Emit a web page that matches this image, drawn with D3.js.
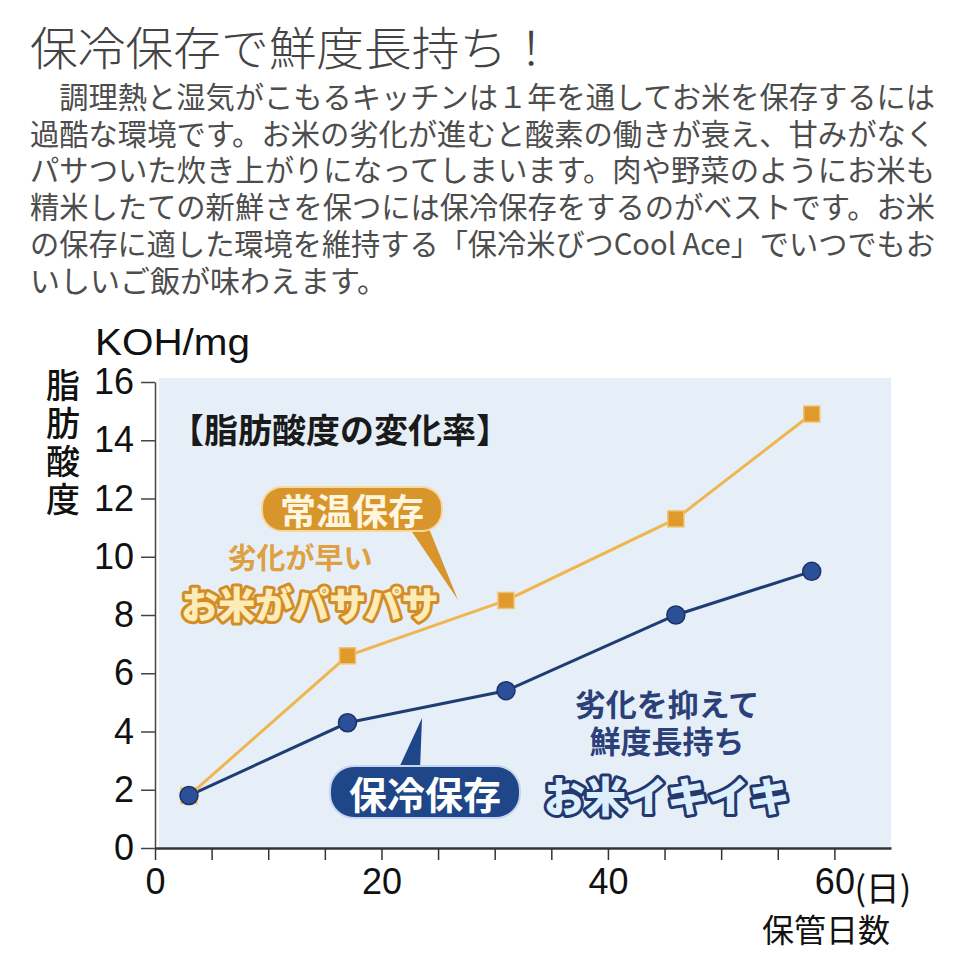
<!DOCTYPE html>
<html>
<head>
<meta charset="utf-8">
<script src="https://cdn.jsdelivr.net/npm/d3@7"></script>
<style>
  body { margin: 0; background: #fff; }
  svg { display: block; }
</style>
</head>
<body>
<script>
// data
const days = [3, 17, 31, 46, 58];
const roomTemp = [1.8, 6.6, 8.5, 11.3, 14.9];   // 常温保存
const cooled = [1.8, 4.3, 5.4, 8.0, 9.5];       // 保冷保存
const yTicks = [0, 2, 4, 6, 8, 10, 12, 14, 16];
const xTicks = [0, 5, 10, 15, 20, 25, 30, 35, 40, 45, 50, 55, 60];
const xLabels = [0, 20, 40, 60];

const title = '保冷保存で鮮度長持ち！';
const bodyLines = [
  '　調理熱と湿気がこもるキッチンは１年を通してお米を保存するには',
  '過酷な環境です。お米の劣化が進むと酸素の働きが衰え、甘みがなく',
  'パサついた炊き上がりになってしまいます。肉や野菜のようにお米も',
  '精米したての新鮮さを保つには保冷保存をするのがベストです。お米',
  'の保存に適した環境を維持する「保冷米びつCool Ace」でいつでもお',
  'いしいご飯が味わえます。'
];

const jp = '"Noto Sans CJK JP", "Noto Sans", sans-serif';
const latin = '"Liberation Sans", Arial, sans-serif';

const svg = d3.select('body').append('svg')
  .attr('width', 960)
  .attr('height', 960);

// heading + paragraph
svg.append('text')
  .attr('x', 30)
  .attr('y', 45)
  .attr('dominant-baseline', 'central')
  .attr('font-family', jp)
  .attr('font-weight', 300)
  .attr('font-size', 46)
  .attr('fill', '#444')
  .attr('textLength', 525)
  .attr('lengthAdjust', 'spacingAndGlyphs')
  .text(title);

// paragraph as one text block
svg.append('text')
  .attr('font-family', jp)
  .attr('font-weight', 400)
  .attr('font-size', 30)
  .attr('fill', '#4d4d4d')
  .selectAll('tspan')
  .data(bodyLines)
  .enter()
  .append('tspan')
  .attr('x', 30)
  .attr('y', (d, i) => 108 + i * 36.7)
  .each(function (d, i) {
    if (i < bodyLines.length - 1) {
      d3.select(this).attr('textLength', 905).attr('lengthAdjust', 'spacingAndGlyphs');
    }
  })
  .text((d) => d);

// chart
const x = d3.scaleLinear().domain([0, 65]).range([155, 891]);
const y = d3.scaleLinear().domain([0, 16]).range([848, 382]);

svg.append('rect')
  .attr('x', x(0) + 4)
  .attr('y', y(16) - 4)
  .attr('width', x(65) - x(0) - 4)
  .attr('height', y(0) - y(16) + 4)
  .attr('fill', '#e6eff8');

const xAxis = d3.axisBottom(x)
  .tickValues(xTicks)
  .tickSize(12)
  .tickSizeOuter(0)
  .tickPadding(8)
  .tickFormat((d) => (xLabels.includes(d) ? d : ''));

const gx = svg.append('g')
  .attr('transform', 'translate(0,' + y(0) + ')')
  .call(xAxis);
gx.select('.domain').attr('stroke', '#333').attr('stroke-width', 2.5);
gx.selectAll('.tick line').attr('stroke', '#333').attr('stroke-width', 1.5);
gx.selectAll('.tick text')
  .attr('font-family', latin)
  .attr('font-size', 36)
  .attr('fill', '#111');

svg.append('text')
  .attr('x', x(60) + 20)
  .attr('y', 886)
  .attr('dominant-baseline', 'central')
  .attr('font-family', jp)
  .attr('font-size', 34)
  .attr('fill', '#111')
  .text('(日)');

svg.append('text')
  .attr('x', 890)
  .attr('y', 928)
  .attr('text-anchor', 'end')
  .attr('dominant-baseline', 'central')
  .attr('font-family', jp)
  .attr('font-weight', 400)
  .attr('font-size', 32)
  .attr('fill', '#111')
  .text('保管日数');

const yAxis = d3.axisLeft(y)
  .tickValues(yTicks)
  .tickSize(14)
  .tickSizeOuter(0)
  .tickPadding(7);

const gy = svg.append('g')
  .attr('transform', 'translate(' + x(0) + ',0)')
  .call(yAxis);
gy.select('.domain').attr('stroke', '#444').attr('stroke-width', 1.5);
gy.selectAll('.tick line').attr('stroke', '#444').attr('stroke-width', 1.5);
gy.selectAll('.tick text')
  .attr('font-family', latin)
  .attr('font-size', 36)
  .attr('fill', '#111');

svg.append('text')
  .attr('x', 95)
  .attr('y', 342)
  .attr('dominant-baseline', 'central')
  .attr('font-family', latin)
  .attr('font-size', 36)
  .attr('fill', '#111')
  .attr('textLength', 155)
  .attr('lengthAdjust', 'spacingAndGlyphs')
  .text('KOH/mg');

// vertical y label as one text
svg.append('text')
  .attr('x', 63)
  .attr('y', 368)
  .style('writing-mode', 'vertical-rl')
  .style('text-orientation', 'upright')
  .style('letter-spacing', '4px')
  .attr('font-family', jp)
  .attr('font-weight', 500)
  .attr('font-size', 34)
  .attr('fill', '#111')
  .text('脂肪酸度');

svg.append('text')
  .attr('x', 170)
  .attr('y', 428)
  .attr('dominant-baseline', 'central')
  .attr('font-family', jp)
  .attr('font-weight', 700)
  .attr('font-size', 34)
  .attr('fill', '#1a1a1a')
  .text('【脂肪酸度の変化率】');

// series lines
const line = d3.line()
  .x((d, i) => x(days[i]))
  .y((d) => y(d));

svg.append('path')
  .datum(roomTemp)
  .attr('d', line)
  .attr('fill', 'none')
  .attr('stroke', '#efb650')
  .attr('stroke-width', 3);

svg.append('path')
  .datum(cooled)
  .attr('d', line)
  .attr('fill', 'none')
  .attr('stroke', '#1f3c74')
  .attr('stroke-width', 3);

svg.append('g')
  .selectAll('rect')
  .data(roomTemp)
  .enter()
  .append('rect')
  .attr('x', (d, i) => x(days[i]) - 8)
  .attr('y', (d) => y(d) - 8)
  .attr('width', 16)
  .attr('height', 16)
  .attr('fill', '#e09a2c')
  .attr('stroke', '#f3c070')
  .attr('stroke-width', 1.5);

svg.append('g')
  .selectAll('circle')
  .data(cooled)
  .enter()
  .append('circle')
  .attr('cx', (d, i) => x(days[i]))
  .attr('cy', (d) => y(d))
  .attr('r', 9)
  .attr('fill', '#2b4f98')
  .attr('stroke', '#1b3266')
  .attr('stroke-width', 1.5);

// annotations
const orange = '#d8952c';
const navy = '#1f4688';

// 常温保存 callout
svg.append('path')
  .attr('d', 'M408,526 L428,526 L458,600 Z')
  .attr('fill', orange);
svg.append('rect')
  .attr('x', 262).attr('y', 487)
  .attr('width', 180).attr('height', 44)
  .attr('rx', 20)
  .attr('fill', orange)
  .attr('stroke', '#f6d9a0')
  .attr('stroke-width', 2);
svg.append('text')
  .attr('x', 352).attr('y', 509)
  .attr('text-anchor', 'middle')
  .attr('dominant-baseline', 'central')
  .attr('font-family', jp).attr('font-weight', 700).attr('font-size', 36)
  .attr('fill', '#fff6e0')
  .text('常温保存');

svg.append('text')
  .attr('x', 300).attr('y', 556)
  .attr('text-anchor', 'middle')
  .attr('dominant-baseline', 'central')
  .attr('font-family', jp).attr('font-weight', 700).attr('font-size', 29)
  .attr('fill', '#dfa040')
  .text('劣化が早い');

svg.append('text')
  .attr('x', 310).attr('y', 603)
  .attr('text-anchor', 'middle')
  .attr('dominant-baseline', 'central')
  .attr('font-family', jp).attr('font-weight', 900).attr('font-size', 37)
  .attr('fill', '#fdebb8')
  .attr('stroke', '#d38d26')
  .attr('stroke-width', 6)
  .attr('stroke-linejoin', 'round')
  .attr('paint-order', 'stroke')
  .text('お米がパサパサ');

// 保冷保存 callout
svg.append('path')
  .attr('d', 'M398,770 L420,770 L422,718 Z')
  .attr('fill', navy);
svg.append('rect')
  .attr('x', 330).attr('y', 766)
  .attr('width', 190).attr('height', 52)
  .attr('rx', 24)
  .attr('fill', navy)
  .attr('stroke', '#c5d6ee')
  .attr('stroke-width', 2);
svg.append('text')
  .attr('x', 425).attr('y', 792)
  .attr('text-anchor', 'middle')
  .attr('dominant-baseline', 'central')
  .attr('font-family', jp).attr('font-weight', 700).attr('font-size', 38)
  .attr('fill', '#ffffff')
  .text('保冷保存');

svg.append('text')
  .attr('text-anchor', 'middle')
  .attr('font-family', jp).attr('font-weight', 700).attr('font-size', 31)
  .attr('fill', '#2b3f78')
  .selectAll('tspan')
  .data(['劣化を抑えて', '鮮度長持ち'])
  .enter()
  .append('tspan')
  .attr('x', 667)
  .attr('y', (d, i) => 716 + i * 37)
  .text((d) => d);

svg.append('text')
  .attr('x', 667).attr('y', 794)
  .attr('text-anchor', 'middle')
  .attr('dominant-baseline', 'central')
  .attr('font-family', jp).attr('font-weight', 900).attr('font-size', 41)
  .attr('fill', '#dcefff')
  .attr('stroke', '#24386e')
  .attr('stroke-width', 6)
  .attr('stroke-linejoin', 'round')
  .attr('paint-order', 'stroke')
  .text('お米イキイキ');
</script>
</body>
</html>
